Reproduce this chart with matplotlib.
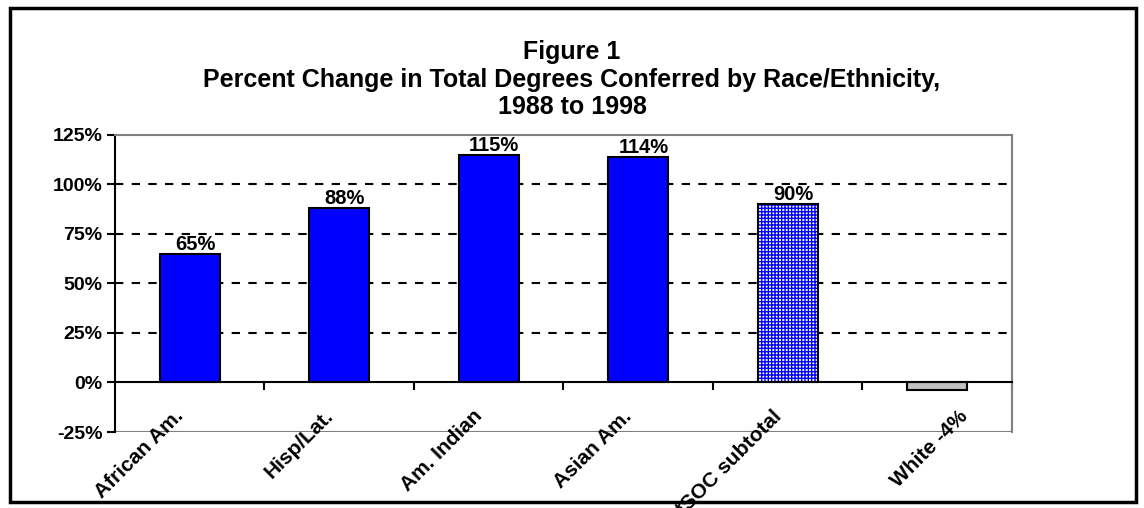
import matplotlib.pyplot as plt
from matplotlib.patches import Rectangle

plt.rcParams['font.family'] = ['Liberation Sans', 'DejaVu Sans']
plt.rcParams['font.weight'] = 'bold'

# данные
groups = ['African Am.', 'Hisp/Lat.', 'Am. Indian', 'Asian Am.', '*SOC subtotal', 'White -4%']
change = [65, 88, 115, 114, 90, -4]
value_labels = ['65%', '88%', '115%', '114%', '90%', '']
yticks = [-25, 0, 25, 50, 75, 100, 125]
label_dx = [-6.5, -6.5, -6.5, -6.5, -6.5, 20]  # сдвиг подписей категорий, pt

fig = plt.figure(figsize=(11.44, 5.08), dpi=100)
ax = fig.add_axes([0.1005, 0.1496, 0.7841, 0.5847])

x = list(range(len(groups)))
w = 0.4
colors = ['#0000ff'] * 4 + ['white', '#c0c0c0']

for i in x:
    if i == 4:
        # клетчатая штриховка для подытога
        ax.bar(i, change[i], w, color='white', edgecolor='#0000ff', hatch='+++++', linewidth=0, zorder=3)
        ax.bar(i, change[i], w, fill=False, edgecolor='black', linewidth=1.5, zorder=4)
    else:
        ax.bar(i, change[i], w, color=colors[i], edgecolor='black', linewidth=1.5, zorder=3)
    if value_labels[i]:
        ax.annotate(value_labels[i], xy=(i, change[i]), xytext=(4, 0), textcoords='offset points',
                    ha='center', va='bottom', fontsize=14.5, fontweight='bold', zorder=5)
    # подписи категорий под осью
    ax.annotate(groups[i], xy=(i, 0), xycoords='data', xytext=(label_dx[i], -22), textcoords='offset points',
                rotation=45, ha='right', va='center', rotation_mode='anchor', fontsize=15, fontweight='bold')

ax.set_xlim(-0.5, len(groups) - 0.5)
ax.set_ylim(-25, 125)
ax.set_yticks(yticks)
ax.set_yticklabels([f'{t}%' for t in yticks], fontsize=14, fontweight='bold')

# сетка пунктиром
for t in [25, 50, 75, 100]:
    ax.axhline(t, color='black', linestyle=(0, (4, 4)), linewidth=1.5, zorder=1)

# ось категорий на нуле
ax.spines['bottom'].set_position(('data', 0))
ax.spines['bottom'].set_linewidth(1.5)
ax.spines['bottom'].set_zorder(5)
ax.spines['left'].set_linewidth(1.5)
for s in ['top', 'right']:
    ax.spines[s].set_color('#808080')
    ax.spines[s].set_linewidth(1.5)
ax.axhline(-25, color='#808080', linewidth=1.5, zorder=1)

ax.set_xticks([i + 0.5 for i in x])
ax.set_xticklabels([])
ax.tick_params(axis='x', length=6, width=1.5, direction='out')
ax.tick_params(axis='y', length=6, width=1.5, direction='out', pad=3)

fig.text(0.5, 0.921, 'Figure 1\nPercent Change in Total Degrees Conferred by Race/Ethnicity,\n1988 to 1998',
         ha='center', va='top', fontsize=18, fontweight='bold', linespacing=1.18)

# рамка вокруг рисунка
fig.patches.append(Rectangle((0.0087, 0.012), 0.984, 0.972, transform=fig.transFigure,
                             fill=False, edgecolor='black', linewidth=2.5, zorder=10))

fig.savefig('out.png', dpi=100)
